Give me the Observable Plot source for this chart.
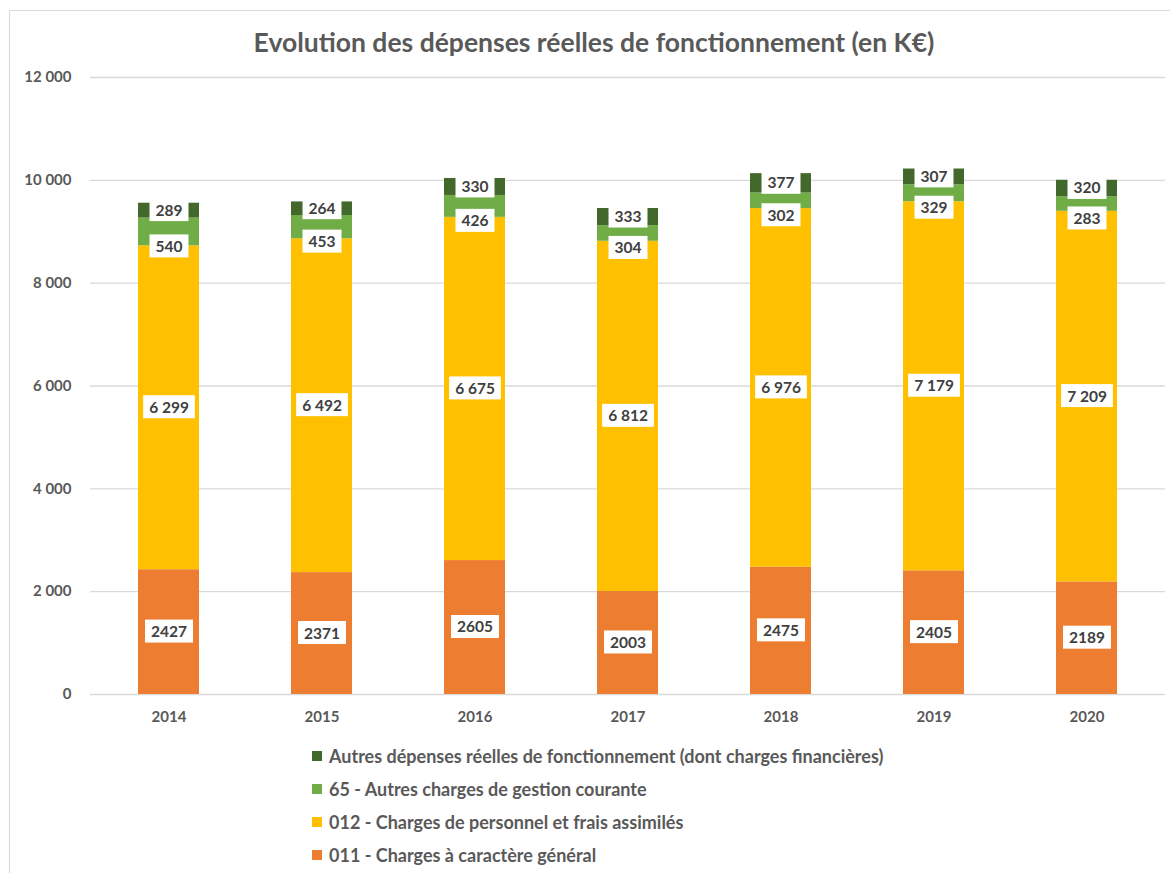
<!DOCTYPE html>
<html><head><meta charset="utf-8">
<script src="https://cdn.jsdelivr.net/npm/d3@7"></script>
<script src="https://cdn.jsdelivr.net/npm/@observablehq/plot@0.6"></script>
<style>
body{margin:0;background:#fff;font-family:Lato,"Open Sans",sans-serif;}
#wrap{position:relative;width:1170px;height:873px;overflow:hidden;}
#frame{position:absolute;left:9px;top:10px;width:1200px;height:900px;border:1.5px solid #d9d9d9;box-sizing:border-box;}
#title{position:absolute;left:0;width:1188px;top:26px;text-align:center;font-size:26.5px;font-weight:700;color:#595959;line-height:32px;}
#chart{position:absolute;left:0;top:0;}
#legend{position:absolute;left:312px;top:739px;}
.item{display:flex;align-items:center;height:33px;font-size:18px;font-weight:700;color:#595959;}
.sw{width:10px;height:10px;margin-right:7px;flex:none;}
</style></head>
<body><div id="wrap"><div id="frame"></div><div id="title">Evolution des dépenses réelles de fonctionnement (en K€)</div><div id="chart"></div><div id="legend"></div></div>
<script>
const years = ["2014","2015","2016","2017","2018","2019","2020"];
const series = [
  "011 - Charges à caractère général",
  "012 - Charges de personnel et frais assimilés",
  "65 - Autres charges de gestion courante",
  "Autres dépenses réelles de fonctionnement (dont charges financières)"
];
const colors = ["#ED7D31","#FFC000","#70AD47","#43682B"];
const v011 = [2427,2371,2605,2003,2475,2405,2189];
const v012 = [6299,6492,6675,6812,6976,7179,7209];
const v65 = [540,453,426,304,302,329,283];
const vAutres = [289,264,330,333,377,307,320];
const yTicks = [0,2000,4000,6000,8000,10000,12000];

const valuesBySeries = [v011, v012, v65, vAutres];
const data = [];
years.forEach((yr, i) => {
  series.forEach((s, k) => data.push({year: yr, series: s, value: valuesBySeries[k][i]}));
});

const loc = d3.formatLocale({decimal: ",", thousands: " ", grouping: [3], currency: ["", " €"]});
const fmtSpace = loc.format(",d");
const fmtPlain = d3.format("d");
const labelText = d => d.series === series[0] ? fmtPlain(d.value) : fmtSpace(d.value);

const chart = Plot.plot({
  width: 1170,
  height: 740,
  marginTop: 77,
  marginBottom: 46,
  marginLeft: 90,
  marginRight: 5,
  style: {fontFamily: "Lato, 'Open Sans', sans-serif", fontSize: "15px", fontWeight: 700, color: "#595959", background: "transparent"},
  x: {domain: years, paddingInner: 0.6, paddingOuter: 0.3, tickSize: 0, tickPadding: 17, label: null},
  y: {domain: [0, 12000], ticks: yTicks, tickFormat: fmtSpace, tickSize: 0, tickPadding: 19, label: null},
  color: {domain: series, range: colors},
  marks: [
    Plot.ruleY(yTicks, {stroke: "#d9d9d9", strokeWidth: 1.3}),
    Plot.barY(data, {x: "year", y: "value", fill: "series"}),
    Plot.text(data, Plot.stackY({x: "year", y: "value", z: "series",
      text: d => d.series === series[2] ? null : labelText(d),
      fill: "#404040", fontSize: 15.5, fontWeight: 700})),
    Plot.text(data, Plot.stackY({x: "year", y: "value", z: "series",
      text: d => d.series === series[2] ? labelText(d) : null,
      dy: 15, fill: "#404040", fontSize: 15.5, fontWeight: 700}))
  ]
});
document.getElementById("chart").appendChild(chart);

// white boxes behind the segment value labels
chart.querySelectorAll('g[aria-label="text"] text').forEach(t => {
  const bb = t.getBBox();
  const r = document.createElementNS("http://www.w3.org/2000/svg", "rect");
  r.setAttribute("x", bb.x - 6);
  r.setAttribute("y", bb.y - 2.5);
  r.setAttribute("width", bb.width + 12);
  r.setAttribute("height", bb.height + 5);
  r.setAttribute("fill", "#ffffff");
  const tr = t.getAttribute("transform");
  if (tr) r.setAttribute("transform", tr);
  t.parentNode.insertBefore(r, t);
});

const legend = document.getElementById("legend");
[3,2,1,0].forEach(k => {
  const it = document.createElement("div");
  it.className = "item";
  const sw = document.createElement("span");
  sw.className = "sw";
  sw.style.background = colors[k];
  const tx = document.createElement("span");
  tx.textContent = series[k];
  it.appendChild(sw); it.appendChild(tx);
  legend.appendChild(it);
});
</script></body></html>
